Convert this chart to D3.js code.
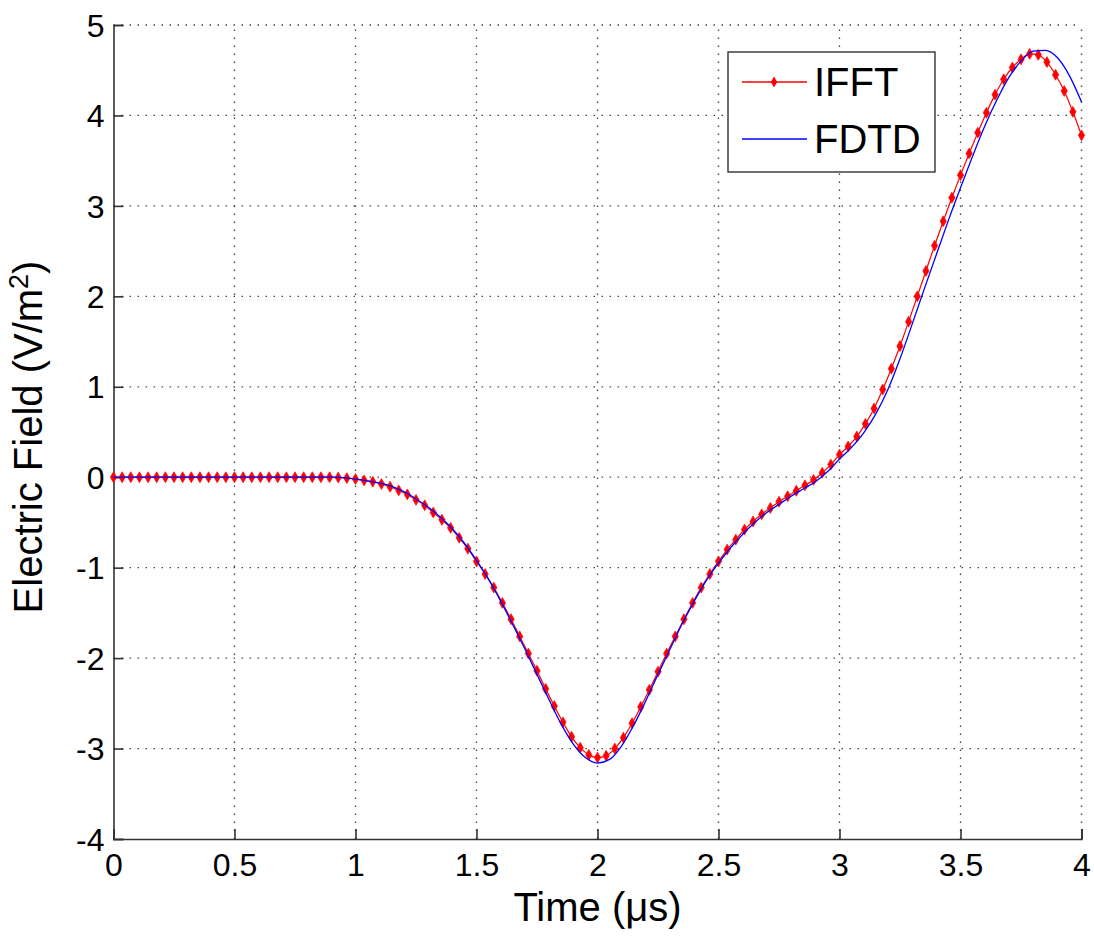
<!DOCTYPE html>
<html>
<head>
<meta charset="utf-8">
<script src="https://cdn.jsdelivr.net/npm/d3@7"></script>
<style>
  html, body { margin: 0; padding: 0; background: #fff; }
  svg { display: block; font-family: "Liberation Sans", Arial, sans-serif; }
</style>
</head>
<body>
<svg id="chart" width="1094" height="936"></svg>
<script>
// ---------------- data ----------------
const xTicks = [0, 0.5, 1, 1.5, 2, 2.5, 3, 3.5, 4];
const xTickLabels = ["0", "0.5", "1", "1.5", "2", "2.5", "3", "3.5", "4"];
const yTicks = [-4, -3, -2, -1, 0, 1, 2, 3, 4, 5];
const yTickLabels = ["-4", "-3", "-2", "-1", "0", "1", "2", "3", "4", "5"];
const seriesNames = ["IFFT", "FDTD"];

// IFFT samples (sample step = 1/28 µs, 113 samples from 0 to 4 µs)
const ifftStep = 1 / 28;
const ifftValues = [
  0, 0, 0, 0, 0, 0, 0, 0, 0, 0,
  0, 0, 0, 0, 0, 0, 0, 0, 0, 0,
  0, 0, 0, 0, 0, 0, -0.003, -0.01, -0.02, -0.035,
  -0.05, -0.075, -0.105, -0.145, -0.19, -0.25, -0.31, -0.39, -0.47, -0.56,
  -0.67, -0.79, -0.93, -1.07, -1.22, -1.39, -1.57, -1.76, -1.95, -2.14,
  -2.34, -2.53, -2.71, -2.87, -2.99, -3.07, -3.1, -3.08, -3.0, -2.88,
  -2.72, -2.54, -2.35, -2.15, -1.95, -1.76, -1.57, -1.39, -1.22, -1.07,
  -0.93, -0.8, -0.69, -0.58, -0.49, -0.41, -0.34, -0.27, -0.21, -0.15,
  -0.09, -0.03, 0.05, 0.14, 0.25, 0.34, 0.45, 0.59, 0.76, 0.97,
  1.2, 1.45, 1.72, 2.0, 2.28, 2.56, 2.83, 3.09, 3.34, 3.58,
  3.81, 4.03, 4.23, 4.4, 4.53, 4.62, 4.68, 4.67, 4.59, 4.45,
  4.27, 4.04, 3.78
];

// FDTD samples (time in µs and field value)
const fdtdTimes = [
  0, 0.1, 0.2, 0.3, 0.4, 0.5, 0.6, 0.7, 0.8, 0.9, 0.95,
  1.0, 1.05, 1.1, 1.15, 1.2, 1.25, 1.3, 1.35, 1.4, 1.45,
  1.5, 1.55, 1.6, 1.65, 1.7, 1.75, 1.8, 1.85, 1.9, 1.95,
  2.0, 2.05, 2.1, 2.15, 2.2, 2.25, 2.3, 2.35, 2.4, 2.45,
  2.5, 2.55, 2.6, 2.65, 2.7, 2.75, 2.8, 2.85, 2.9, 2.95,
  3.0, 3.05, 3.1, 3.15, 3.2, 3.25, 3.3, 3.35, 3.4, 3.45,
  3.5, 3.55, 3.6, 3.65, 3.7, 3.75, 3.8, 3.85, 3.9, 3.95, 4.0
];
const fdtdValues = [
  0, 0, 0, 0, 0, 0, 0, 0, 0, 0, -0.005,
  -0.02, -0.04, -0.065, -0.1, -0.16, -0.24, -0.33, -0.44, -0.57, -0.73,
  -0.92, -1.13, -1.37, -1.63, -1.9, -2.18, -2.46, -2.73, -2.95, -3.1,
  -3.16, -3.12, -2.97, -2.74, -2.47, -2.18, -1.9, -1.62, -1.37, -1.14,
  -0.95, -0.78, -0.63, -0.5, -0.39, -0.3, -0.21, -0.13, -0.05, 0.06,
  0.2, 0.33, 0.49, 0.7, 0.97, 1.31, 1.69, 2.08, 2.46, 2.84,
  3.2, 3.55, 3.88, 4.17, 4.42, 4.6, 4.71, 4.72, 4.64, 4.44, 4.15
];

// ---------------- layout ----------------
const svg = d3.select("#chart");
const plotLeft = 113.5, plotRight = 1081.5, plotTop = 25, plotBottom = 839;

const x = d3.scaleLinear().domain([0, 4]).range([plotLeft, plotRight]);
const y = d3.scaleLinear().domain([-4, 5]).range([plotBottom, plotTop]);

const axisColor = "#333";
const gridColor = "#444";

// grid (dotted)
const grid = svg.append("g");
grid.selectAll("line.v").data(xTicks.filter(d => d !== 0)).enter().append("line")
  .attr("x1", d => x(d)).attr("x2", d => x(d))
  .attr("y1", y(-4)).attr("y2", y(5))
  .attr("stroke", gridColor).attr("stroke-width", 1.3)
  .attr("stroke-dasharray", "1.5,6.5");
grid.selectAll("line.h").data(yTicks.filter(d => d !== -4)).enter().append("line")
  .attr("x1", x(0)).attr("x2", x(4))
  .attr("y1", d => y(d)).attr("y2", d => y(d))
  .attr("stroke", gridColor).attr("stroke-width", 1.3)
  .attr("stroke-dasharray", "1.5,6.5");

// axes
const xAxis = d3.axisBottom(x).tickValues(xTicks).tickSize(-10)
  .tickFormat((d, i) => xTickLabels[i]).tickPadding(14);
const gx = svg.append("g").attr("transform", `translate(0,${plotBottom})`).call(xAxis);
const yAxis = d3.axisLeft(y).tickValues(yTicks).tickSize(-10)
  .tickFormat((d, i) => yTickLabels[i]).tickPadding(9);
const gy = svg.append("g").attr("transform", `translate(${plotLeft},0)`).call(yAxis);

[gx, gy].forEach(g => {
  g.select(".domain").attr("stroke", axisColor).attr("stroke-width", 1.6);
  g.selectAll(".tick line").attr("stroke", axisColor).attr("stroke-width", 1.6);
  g.selectAll(".tick text").attr("fill", "#000")
    .style("font-family", "'Liberation Sans', Arial, sans-serif")
    .style("font-size", "32px");
});
gx.selectAll(".tick text").attr("dy", "0.71em");
gy.selectAll(".tick text").attr("dy", "0.35em");

// series
const ifftData = ifftValues.map((v, i) => ({ t: i * ifftStep, v }));
const fdtdData = fdtdTimes.map((t, i) => ({ t, v: fdtdValues[i] }));

const line = d3.line().x(d => x(d.t)).y(d => y(d.v)).curve(d3.curveMonotoneX);

svg.append("path").datum(ifftData)
  .attr("d", line).attr("fill", "none")
  .attr("stroke", "#ff0000").attr("stroke-width", 1.2);

const marker = d3.symbol().type(d3.symbolDiamond).size(34);
svg.append("g").selectAll("path").data(ifftData).enter().append("path")
  .attr("d", marker)
  .attr("transform", d => `translate(${x(d.t)},${y(d.v)})`)
  .attr("fill", "#ff0000").attr("stroke", "#ff1010").attr("stroke-width", 0.8);

svg.append("path").datum(fdtdData)
  .attr("d", line).attr("fill", "none")
  .attr("stroke", "#0000ff").attr("stroke-width", 1.3);

// axis titles
svg.append("text")
  .attr("x", (plotLeft + plotRight) / 2).attr("y", 921)
  .attr("text-anchor", "middle")
  .style("font-size", "40px").attr("fill", "#000")
  .text("Time (\u03bcs)");

const yt = svg.append("text")
  .attr("transform", `translate(42,${(plotTop + plotBottom) / 2 + 5}) rotate(-90)`)
  .attr("text-anchor", "middle")
  .style("font-size", "40px").attr("fill", "#000");
yt.append("tspan").text("Electric Field (V/m");
yt.append("tspan").attr("dy", "-14").style("font-size", "27px").text("2");
yt.append("tspan").attr("dy", "14").text(")");

// legend
const lg = svg.append("g");
lg.append("rect").attr("x", 728).attr("y", 52).attr("width", 207).attr("height", 120)
  .attr("fill", "#fff").attr("stroke", "#222").attr("stroke-width", 1.3);
const legendColors = ["#ff0000", "#0000ff"];
const legendY = [82, 139];
seriesNames.forEach((name, i) => {
  lg.append("line").attr("x1", 742).attr("x2", 807)
    .attr("y1", legendY[i]).attr("y2", legendY[i])
    .attr("stroke", legendColors[i]).attr("stroke-width", 1.3);
  if (i === 0) {
    lg.append("path").attr("d", marker)
      .attr("transform", `translate(774,${legendY[i]})`)
      .attr("fill", "#ff0000");
  }
  lg.append("text").attr("x", 814).attr("y", legendY[i])
    .attr("dy", "0.36em")
    .style("font-size", "40px").attr("fill", "#000")
    .text(name);
});
</script>
</body>
</html>
